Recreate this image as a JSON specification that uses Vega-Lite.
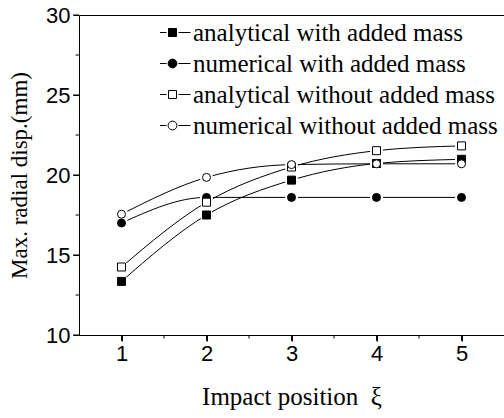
{
  "$schema": "https://vega.github.io/schema/vega-lite/v6.json",
  "autosize": "none",
  "width": 425,
  "height": 320,
  "padding": {"left": 79, "top": 15, "right": 0, "bottom": 83},
  "background": "white",
  "config": {
    "view": {"stroke": "black", "strokeWidth": 1},
    "axis": {
      "grid": false,
      "domainColor": "black",
      "labelColor": "black",
      "titleColor": "black",
      "labelFont": "Liberation Sans",
      "labelFontSize": 22,
      "titleFont": "Liberation Serif",
      "titleFontSize": 23,
      "titleFontWeight": "normal"
    }
  },
  "datasets": {
    "curves": [
      {"series": "analytical with added mass", "x": 1, "y": 13.35},
      {"series": "analytical with added mass", "x": 2, "y": 17.5},
      {"series": "analytical with added mass", "x": 3, "y": 19.68},
      {"series": "analytical with added mass", "x": 4, "y": 20.72},
      {"series": "analytical with added mass", "x": 5, "y": 20.98},
      {"series": "numerical with added mass", "x": 1, "y": 17.0},
      {"series": "numerical with added mass", "x": 2, "y": 18.6},
      {"series": "numerical with added mass", "x": 3, "y": 18.6},
      {"series": "numerical with added mass", "x": 4, "y": 18.6},
      {"series": "numerical with added mass", "x": 5, "y": 18.6},
      {"series": "analytical without added mass", "x": 1, "y": 14.25},
      {"series": "analytical without added mass", "x": 2, "y": 18.3},
      {"series": "analytical without added mass", "x": 3, "y": 20.5},
      {"series": "analytical without added mass", "x": 4, "y": 21.52},
      {"series": "analytical without added mass", "x": 5, "y": 21.82},
      {"series": "numerical without added mass", "x": 1, "y": 17.55},
      {"series": "numerical without added mass", "x": 2, "y": 19.85},
      {"series": "numerical without added mass", "x": 3, "y": 20.65},
      {"series": "numerical without added mass", "x": 4, "y": 20.7},
      {"series": "numerical without added mass", "x": 5, "y": 20.7}
    ],
    "xmajor": [{"x": 1}, {"x": 2}, {"x": 3}, {"x": 4}, {"x": 5}],
    "xminor": [{"x": 1.5}, {"x": 2.5}, {"x": 3.5}, {"x": 4.5}],
    "ymajor": [{"y": 10}, {"y": 15}, {"y": 20}, {"y": 25}, {"y": 30}],
    "yminor": [{"y": 12.5}, {"y": 17.5}, {"y": 22.5}, {"y": 27.5}]
  },
  "data": {"name": "curves"},
  "layer": [
    {
      "mark": {"type": "line", "interpolate": "monotone", "color": "black", "strokeWidth": 1},
      "encoding": {
        "x": {
          "field": "x", "type": "quantitative",
          "scale": {"domain": [0.5, 5.5], "nice": false, "zero": false},
          "axis": {
            "orient": "bottom",
            "values": [1, 2, 3, 4, 5],
            "format": "d",
            "ticks": true,
            "tickColor": "black",
            "tickSize": 6,
            "labelPadding": 2,
            "title": "Impact position\u00a0\u00a0ξ",
            "titleFontSize": 25,
            "titlePadding": 20
          }
        },
        "y": {
          "field": "y", "type": "quantitative",
          "scale": {"domain": [10, 30], "nice": false, "zero": false},
          "axis": {
            "values": [10, 15, 20, 25, 30],
            "format": "d",
            "ticks": true,
            "tickColor": "black",
            "tickSize": 6,
            "labelPadding": 3,
            "title": "Max. radial disp.(mm)",
            "titlePadding": 14
          }
        },
        "detail": {"field": "series"}
      }
    },
    {
      "data": {"name": "xmajor"},
      "mark": {"type": "rule", "color": "black", "strokeWidth": 1, "clip": false},
      "encoding": {
        "x": {"field": "x", "type": "quantitative"},
        "y": {"datum": 10, "type": "quantitative"},
        "y2": {"datum": 9.63}
      }
    },
    {
      "data": {"name": "xminor"},
      "mark": {"type": "rule", "color": "black", "strokeWidth": 1, "clip": false},
      "encoding": {
        "x": {"field": "x", "type": "quantitative"},
        "y": {"datum": 10, "type": "quantitative"},
        "y2": {"datum": 9.78}
      }
    },
    {
      "data": {"name": "ymajor"},
      "mark": {"type": "rule", "color": "black", "strokeWidth": 1, "clip": false},
      "encoding": {
        "y": {"field": "y", "type": "quantitative"},
        "x": {"datum": 0.5, "type": "quantitative"},
        "x2": {"datum": 0.43}
      }
    },
    {
      "data": {"name": "yminor"},
      "mark": {"type": "rule", "color": "black", "strokeWidth": 1, "clip": false},
      "encoding": {
        "y": {"field": "y", "type": "quantitative"},
        "x": {"datum": 0.5, "type": "quantitative"},
        "x2": {"datum": 0.46}
      }
    },
    {
      "mark": {"type": "point", "filled": true, "shape": "circle", "color": "white", "opacity": 1, "size": 170},
      "encoding": {
        "x": {"field": "x", "type": "quantitative"},
        "y": {"field": "y", "type": "quantitative"}
      }
    },
    {
      "mark": {"type": "point", "filled": true, "stroke": "black", "strokeWidth": 1, "opacity": 1, "size": 64},
      "encoding": {
        "x": {"field": "x", "type": "quantitative"},
        "y": {"field": "y", "type": "quantitative"},
        "shape": {
          "field": "series", "type": "nominal",
          "scale": {
            "domain": ["analytical with added mass", "numerical with added mass", "analytical without added mass", "numerical without added mass"],
            "range": ["square", "circle", "square", "circle"]
          },
          "legend": null
        },
        "fill": {
          "field": "series", "type": "nominal",
          "scale": {
            "domain": ["analytical with added mass", "numerical with added mass", "analytical without added mass", "numerical without added mass"],
            "range": ["black", "black", "white", "white"]
          },
          "legend": null
        }
      }
    },
    {
      "transform": [{"filter": "datum.x > 100"}],
      "mark": {"type": "point", "filled": true, "strokeWidth": 1, "opacity": 1, "size": 64},
      "encoding": {
        "x": {"field": "x", "type": "quantitative"},
        "y": {"field": "y", "type": "quantitative"},
        "shape": {
          "field": "series", "type": "nominal",
          "scale": {
            "domain": ["analytical with added mass", "numerical with added mass", "analytical without added mass", "numerical without added mass"],
            "range": [
              "M-4.5,0H-1.5M1.5,0H4.5M-1,-1H1V1H-1Z",
              "M-4.5,0H-1.5M1.5,0H4.5M-1.1,0A1.1,1.1 0 1,0 1.1,0A1.1,1.1 0 1,0 -1.1,0Z",
              "M-4.5,0H-1.5M1.5,0H4.5M-1,-1H1V1H-1Z",
              "M-4.5,0H-1.5M1.5,0H4.5M-1.1,0A1.1,1.1 0 1,0 1.1,0A1.1,1.1 0 1,0 -1.1,0Z"
            ]
          },
          "legend": {
            "title": null, "orient": "none", "legendX": 81, "legendY": 2, "padding": 0, "rowPadding": 0,
            "clipHeight": 31, "symbolSize": 64, "symbolStrokeWidth": 1, "labelOffset": 8, "labelLimit": 400,
            "labelFont": "Liberation Serif", "labelFontSize": 25, "labelColor": "black"
          }
        },
        "fill": {
          "field": "series", "type": "nominal",
          "scale": {
            "domain": ["analytical with added mass", "numerical with added mass", "analytical without added mass", "numerical without added mass"],
            "range": ["black", "black", "white", "white"]
          },
          "legend": {
            "title": null, "orient": "none", "legendX": 81, "legendY": 2, "padding": 0, "rowPadding": 0,
            "clipHeight": 31, "symbolSize": 64, "symbolStrokeWidth": 1, "labelOffset": 8, "labelLimit": 400,
            "labelFont": "Liberation Serif", "labelFontSize": 25, "labelColor": "black"
          }
        },
        "stroke": {
          "field": "series", "type": "nominal",
          "scale": {
            "domain": ["analytical with added mass", "numerical with added mass", "analytical without added mass", "numerical without added mass"],
            "range": ["black", "black", "black", "black"]
          },
          "legend": {
            "title": null, "orient": "none", "legendX": 81, "legendY": 2, "padding": 0, "rowPadding": 0,
            "clipHeight": 31, "symbolSize": 64, "symbolStrokeWidth": 1, "labelOffset": 8, "labelLimit": 400,
            "labelFont": "Liberation Serif", "labelFontSize": 25, "labelColor": "black"
          }
        }
      }
    }
  ],
  "resolve": {"scale": {"shape": "independent", "fill": "independent", "stroke": "independent"}}
}
